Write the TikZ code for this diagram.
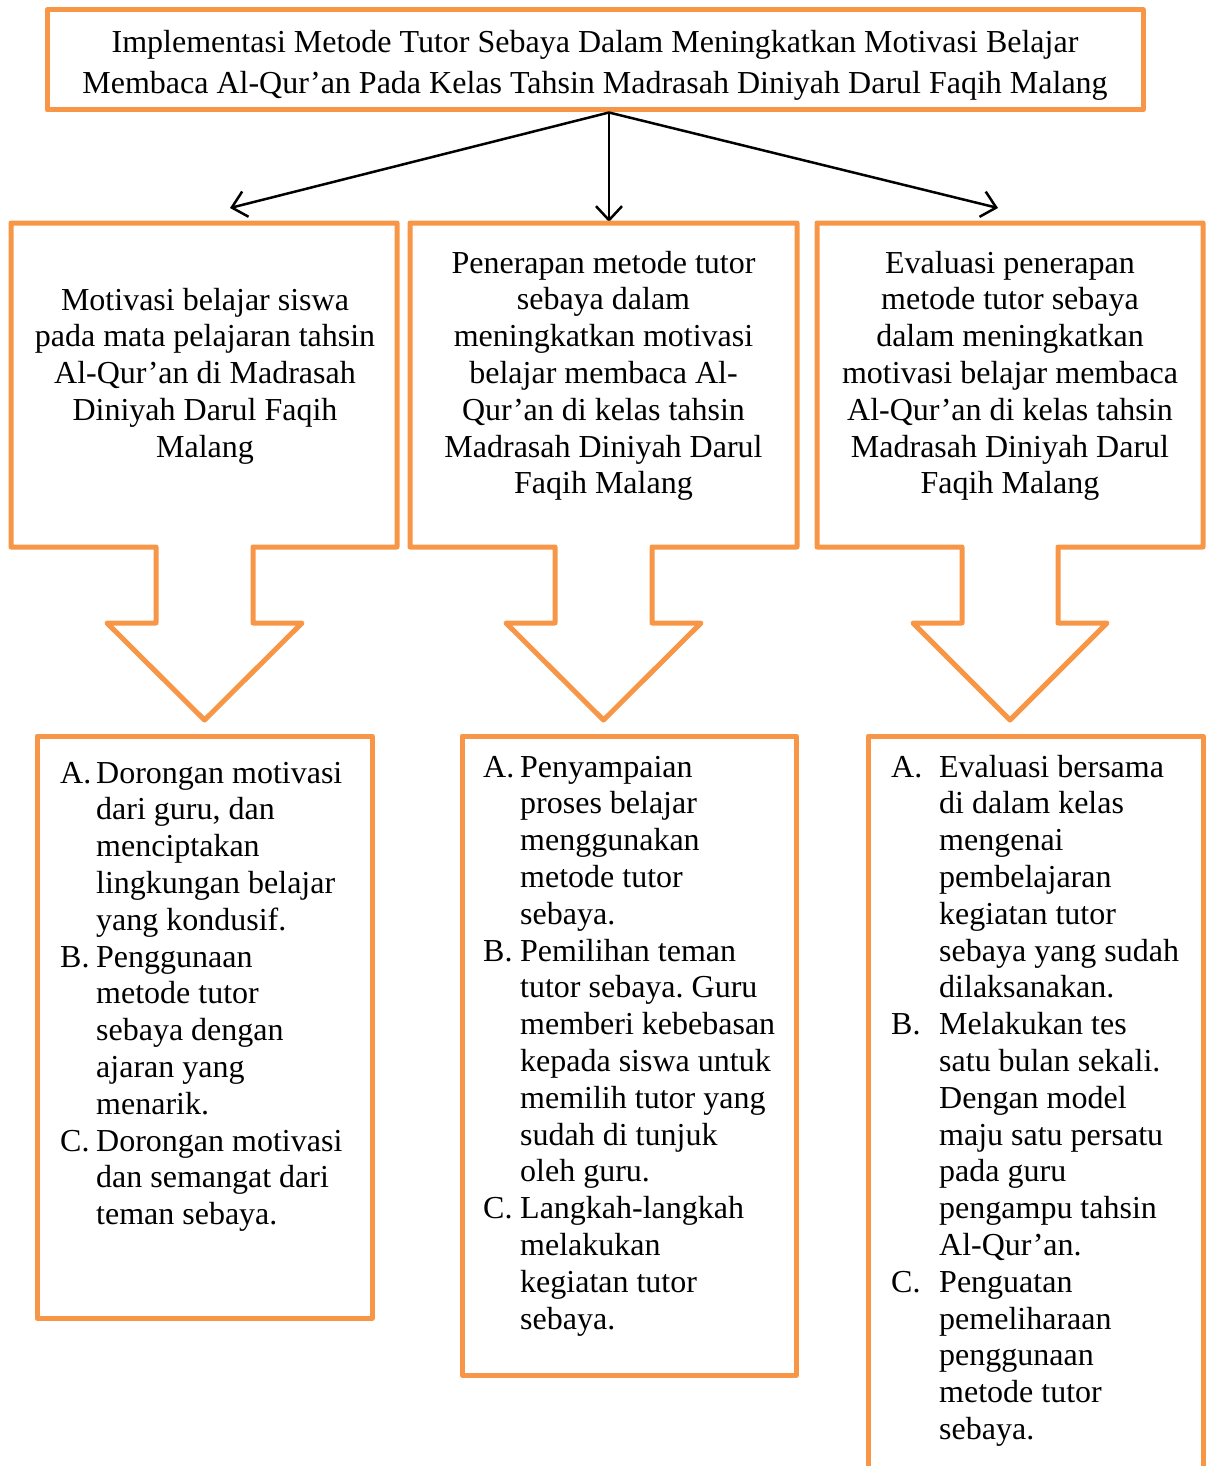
\documentclass[tikz,border=0pt]{standalone}
\usepackage{fontspec}
\setmainfont{Liberation Serif}
\usetikzlibrary{arrows.meta}
\definecolor{oran}{HTML}{F79646}
\frenchspacing
\begin{document}
\begin{tikzpicture}[x=1pt,y=-1pt,
  obox/.style={draw=oran,line width=5pt,line join=round},
  conn/.style={draw=black,line width=2.5pt,-{Straight Barb[length=14pt,width=26pt]}},
  txt/.style={inner sep=0pt,anchor=base,font=\fontsize{32}{36.8}\selectfont},
  listtxt/.style={inner sep=0pt,anchor=base west,font=\fontsize{32}{36.8}\selectfont},
  toptxt/.style={inner sep=0pt,anchor=base,font=\fontsize{32}{41}\selectfont},
]
\useasboundingbox (0,0) rectangle (1208,1466);

% top box
\node[obox,minimum width=1096pt,minimum height=100pt,inner sep=0pt] (top) at (595,60) {};
\node[toptxt] (toptext) at (595,53) {\begin{tabular}[t]{@{}c@{}}
Implementasi Metode Tutor Sebaya Dalam Meningkatkan Motivasi Belajar\\
Membaca Al-Qur’an Pada Kelas Tahsin Madrasah Diniyah Darul Faqih Malang
\end{tabular}};

% arrow targets
\coordinate (tipL) at (230,208);
\coordinate (tipM) at (609,222);
\coordinate (tipR) at (998,208);
\coordinate (src) at (top.south -| tipM);
\draw[conn] (src) -- (tipL);
\draw[conn] (src) -- (tipM);
\draw[conn] (src) -- (tipR);

% middle boxes with block arrows
\draw[obox] (11,223) -- (397,223) -- (397,547) -- (253,547) -- (253,623) -- (302,623)
  -- (204.5,720) -- (107,623) -- (156,623) -- (156,547) -- (11,547) -- cycle;
\draw[obox] (410,223) -- (797,223) -- (797,547) -- (652,547) -- (652,623) -- (701,623)
  -- (603.5,720) -- (506,623) -- (555,623) -- (555,547) -- (410,547) -- cycle;
\draw[obox] (817,223) -- (1203,223) -- (1203,547) -- (1058,547) -- (1058,623) -- (1107,623)
  -- (1010,720) -- (913,623) -- (962,623) -- (962,547) -- (817,547) -- cycle;

\node[txt] (m1) at (205,310) {\begin{tabular}[t]{@{}c@{}}
Motivasi belajar siswa\\
pada mata pelajaran tahsin\\
Al-Qur’an di Madrasah\\
Diniyah Darul Faqih\\
Malang
\end{tabular}};
\node[txt] (m2) at (603.5,273) {\begin{tabular}[t]{@{}c@{}}
Penerapan metode tutor\\
sebaya dalam\\
meningkatkan motivasi\\
belajar membaca Al-\\
Qur’an di kelas tahsin\\
Madrasah Diniyah Darul\\
Faqih Malang
\end{tabular}};
\node[txt] (m3) at (1010,273) {\begin{tabular}[t]{@{}c@{}}
Evaluasi penerapan\\
metode tutor sebaya\\
dalam meningkatkan\\
motivasi belajar membaca\\
Al-Qur’an di kelas tahsin\\
Madrasah Diniyah Darul\\
Faqih Malang
\end{tabular}};

% bottom boxes
\draw[obox] (37,736) rectangle (372,1318);
\draw[obox] (462,736) rectangle (796,1375);
\draw[obox] (868,1475) -- (868,736) -- (1203,736) -- (1203,1475);

\node[listtxt] (b1) at (60,783) {\begin{tabular}[t]{@{}l@{}l@{}}
\makebox[36pt][l]{A.} & Dorongan motivasi\\
 & dari guru, dan\\
 & menciptakan\\
 & lingkungan belajar\\
 & yang kondusif.\\
B. & Penggunaan\\
 & metode tutor\\
 & sebaya dengan\\
 & ajaran yang\\
 & menarik.\\
C. & Dorongan motivasi\\
 & dan semangat dari\\
 & teman sebaya.
\end{tabular}};

\node[listtxt] (b2) at (483,777) {\begin{tabular}[t]{@{}l@{}l@{}}
\makebox[37pt][l]{A.} & Penyampaian\\
 & proses belajar\\
 & menggunakan\\
 & metode tutor\\
 & sebaya.\\
B. & Pemilihan teman\\
 & tutor sebaya. Guru\\
 & memberi kebebasan\\
 & kepada siswa untuk\\
 & memilih tutor yang\\
 & sudah di tunjuk\\
 & oleh guru.\\
C. & Langkah-langkah\\
 & melakukan\\
 & kegiatan tutor\\
 & sebaya.
\end{tabular}};

\node[listtxt] (b3) at (891,777) {\begin{tabular}[t]{@{}l@{}l@{}}
\makebox[48pt][l]{A.} & Evaluasi bersama\\
 & di dalam kelas\\
 & mengenai\\
 & pembelajaran\\
 & kegiatan tutor\\
 & sebaya yang sudah\\
 & dilaksanakan.\\
B. & Melakukan tes\\
 & satu bulan sekali.\\
 & Dengan model\\
 & maju satu persatu\\
 & pada guru\\
 & pengampu tahsin\\
 & Al-Qur’an.\\
C. & Penguatan\\
 & pemeliharaan\\
 & penggunaan\\
 & metode tutor\\
 & sebaya.
\end{tabular}};
\end{tikzpicture}
\end{document}
